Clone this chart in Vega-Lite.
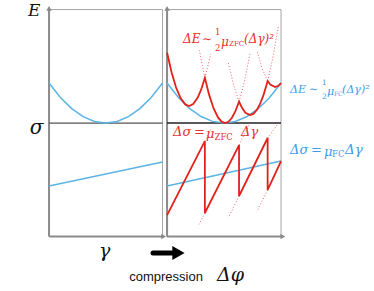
{
  "$schema": "https://vega.github.io/schema/vega-lite/v6.json",
  "width": 374,
  "height": 291,
  "autosize": {"type": "none"},
  "padding": 0,
  "config": {"view": {"stroke": null}},
  "datasets": {
    "F": [
      {"x": 0, "x2": 1, "y": -1, "y2": 1},
      {"x": 1.04, "x2": 2.044, "y": -1, "y2": 1}
    ],
    "R": [
      {"x": 0, "x2": 0, "y": -1, "y2": 1.0, "c": "#8c8c8c", "w": 2},
      {"x": 1.04, "x2": 1.04, "y": -1, "y2": 1.0, "c": "#8c8c8c", "w": 2},
      {"x": 0, "x2": 1.0, "y": -1, "y2": -1, "c": "#8c8c8c", "w": 2},
      {"x": 1.04, "x2": 2.05, "y": -1, "y2": -1, "c": "#8c8c8c", "w": 2},
      {"x": 0, "x2": 1, "y": 0, "y2": 0, "c": "#555555", "w": 1.2},
      {"x": 1.04, "x2": 2.044, "y": 0, "y2": 0, "c": "#222222", "w": 1.5}
    ],
    "A": [
      {"x": 0, "y": 1.01, "sh": "triangle-up"},
      {"x": 1.04, "y": 1.01, "sh": "triangle-up"},
      {"x": 1.01, "y": -1, "sh": "triangle-right"},
      {"x": 2.06, "y": -1, "sh": "triangle-right"}
    ],
    "L": [
      {"k": "b", "s": "bE1", "i": 0, "x": 0, "y": 0.352},
      {"k": "b", "s": "bE1", "i": 1, "x": 0.1, "y": 0.225},
      {"k": "b", "s": "bE1", "i": 2, "x": 0.2, "y": 0.127},
      {"k": "b", "s": "bE1", "i": 3, "x": 0.3, "y": 0.056},
      {"k": "b", "s": "bE1", "i": 4, "x": 0.4, "y": 0.014},
      {"k": "b", "s": "bE1", "i": 5, "x": 0.5, "y": 0},
      {"k": "b", "s": "bE1", "i": 6, "x": 0.6, "y": 0.014},
      {"k": "b", "s": "bE1", "i": 7, "x": 0.7, "y": 0.056},
      {"k": "b", "s": "bE1", "i": 8, "x": 0.8, "y": 0.127},
      {"k": "b", "s": "bE1", "i": 9, "x": 0.9, "y": 0.225},
      {"k": "b", "s": "bE1", "i": 10, "x": 1.0, "y": 0.352},
      {"k": "b", "s": "bE2", "i": 0, "x": 1.04, "y": 0.352},
      {"k": "b", "s": "bE2", "i": 1, "x": 1.14, "y": 0.226},
      {"k": "b", "s": "bE2", "i": 2, "x": 1.24, "y": 0.127},
      {"k": "b", "s": "bE2", "i": 3, "x": 1.34, "y": 0.057},
      {"k": "b", "s": "bE2", "i": 4, "x": 1.44, "y": 0.0145},
      {"k": "b", "s": "bE2", "i": 5, "x": 1.542, "y": 0},
      {"k": "b", "s": "bE2", "i": 6, "x": 1.64, "y": 0.0134},
      {"k": "b", "s": "bE2", "i": 7, "x": 1.74, "y": 0.055},
      {"k": "b", "s": "bE2", "i": 8, "x": 1.84, "y": 0.124},
      {"k": "b", "s": "bE2", "i": 9, "x": 1.94, "y": 0.221},
      {"k": "b", "s": "bE2", "i": 10, "x": 2.044, "y": 0.352},
      {"k": "b", "s": "bS1", "i": 0, "x": 0, "y": -0.555},
      {"k": "b", "s": "bS1", "i": 1, "x": 1.0, "y": -0.344},
      {"k": "b", "s": "bS2", "i": 0, "x": 1.04, "y": -0.555},
      {"k": "b", "s": "bS2", "i": 1, "x": 2.044, "y": -0.335},
      {"k": "r", "s": "rE", "i": 0, "x": 1.04, "y": 0.619},
      {"k": "r", "s": "rE", "i": 1, "x": 1.08, "y": 0.445},
      {"k": "r", "s": "rE", "i": 2, "x": 1.12, "y": 0.311},
      {"k": "r", "s": "rE", "i": 3, "x": 1.16, "y": 0.217},
      {"k": "r", "s": "rE", "i": 4, "x": 1.2, "y": 0.164},
      {"k": "r", "s": "rE", "i": 5, "x": 1.233, "y": 0.15},
      {"k": "r", "s": "rE", "i": 6, "x": 1.27, "y": 0.167},
      {"k": "r", "s": "rE", "i": 7, "x": 1.31, "y": 0.225},
      {"k": "r", "s": "rE", "i": 8, "x": 1.34, "y": 0.294},
      {"k": "r", "s": "rE", "i": 9, "x": 1.373, "y": 0.399},
      {"k": "r", "s": "rE", "i": 10, "x": 1.41, "y": 0.25},
      {"k": "r", "s": "rE", "i": 11, "x": 1.45, "y": 0.1285},
      {"k": "r", "s": "rE", "i": 12, "x": 1.49, "y": 0.0469},
      {"k": "r", "s": "rE", "i": 13, "x": 1.52, "y": 0.0121},
      {"k": "r", "s": "rE", "i": 14, "x": 1.551, "y": 0},
      {"k": "r", "s": "rE", "i": 15, "x": 1.58, "y": 0.0106},
      {"k": "r", "s": "rE", "i": 16, "x": 1.61, "y": 0.0439},
      {"k": "r", "s": "rE", "i": 17, "x": 1.64, "y": 0.0998},
      {"k": "r", "s": "rE", "i": 18, "x": 1.674, "y": 0.189},
      {"k": "r", "s": "rE", "i": 19, "x": 1.7, "y": 0.1335},
      {"k": "r", "s": "rE", "i": 20, "x": 1.73, "y": 0.091},
      {"k": "r", "s": "rE", "i": 21, "x": 1.771, "y": 0.07},
      {"k": "r", "s": "rE", "i": 22, "x": 1.8, "y": 0.0806},
      {"k": "r", "s": "rE", "i": 23, "x": 1.83, "y": 0.1139},
      {"k": "r", "s": "rE", "i": 24, "x": 1.86, "y": 0.17},
      {"k": "r", "s": "rE", "i": 25, "x": 1.89, "y": 0.248},
      {"k": "r", "s": "rE", "i": 26, "x": 1.926, "y": 0.371},
      {"k": "r", "s": "rE", "i": 27, "x": 1.95, "y": 0.338},
      {"k": "r", "s": "rE", "i": 28, "x": 1.991, "y": 0.317},
      {"k": "r", "s": "rE", "i": 29, "x": 2.02, "y": 0.328},
      {"k": "r", "s": "rE", "i": 30, "x": 2.044, "y": 0.352},
      {"k": "r", "s": "rS", "i": 0, "x": 1.04, "y": -0.811},
      {"k": "r", "s": "rS", "i": 1, "x": 1.373, "y": -0.16},
      {"k": "r", "s": "rS", "i": 2, "x": 1.373, "y": -0.793},
      {"k": "r", "s": "rS", "i": 3, "x": 1.674, "y": -0.194},
      {"k": "r", "s": "rS", "i": 4, "x": 1.674, "y": -0.643},
      {"k": "r", "s": "rS", "i": 5, "x": 1.926, "y": -0.132},
      {"k": "r", "s": "rS", "i": 6, "x": 1.926, "y": -0.59},
      {"k": "r", "s": "rS", "i": 7, "x": 2.044, "y": -0.335},
      {"k": "d", "s": "d1", "i": 0, "x": 1.373, "y": 0.399},
      {"k": "d", "s": "d1", "i": 1, "x": 1.4, "y": 0.501},
      {"k": "d", "s": "d1", "i": 2, "x": 1.424, "y": 0.609},
      {"k": "d", "s": "d2", "i": 0, "x": 1.373, "y": 0.399},
      {"k": "d", "s": "d2", "i": 1, "x": 1.35, "y": 0.509},
      {"k": "d", "s": "d2", "i": 2, "x": 1.325, "y": 0.639},
      {"k": "d", "s": "d3", "i": 0, "x": 1.674, "y": 0.189},
      {"k": "d", "s": "d3", "i": 1, "x": 1.72, "y": 0.36},
      {"k": "d", "s": "d3", "i": 2, "x": 1.771, "y": 0.61},
      {"k": "d", "s": "d4", "i": 0, "x": 1.674, "y": 0.189},
      {"k": "d", "s": "d4", "i": 1, "x": 1.63, "y": 0.32},
      {"k": "d", "s": "d4", "i": 2, "x": 1.58, "y": 0.53},
      {"k": "d", "s": "d5", "i": 0, "x": 1.926, "y": 0.371},
      {"k": "d", "s": "d5", "i": 1, "x": 1.88, "y": 0.472},
      {"k": "d", "s": "d5", "i": 2, "x": 1.83, "y": 0.644},
      {"k": "d", "s": "d6", "i": 0, "x": 1.926, "y": 0.371},
      {"k": "d", "s": "d6", "i": 1, "x": 1.97, "y": 0.569},
      {"k": "d", "s": "d6", "i": 2, "x": 2.02, "y": 0.851},
      {"k": "d", "s": "e1", "i": 0, "x": 1.373, "y": -0.793},
      {"k": "d", "s": "e1", "i": 1, "x": 1.322, "y": -0.893},
      {"k": "d", "s": "e2", "i": 0, "x": 1.674, "y": -0.643},
      {"k": "d", "s": "e2", "i": 1, "x": 1.58, "y": -0.835},
      {"k": "d", "s": "e3", "i": 0, "x": 1.926, "y": -0.59},
      {"k": "d", "s": "e3", "i": 1, "x": 1.83, "y": -0.78},
      {"k": "d", "s": "e4", "i": 0, "x": 1.373, "y": -0.16},
      {"k": "d", "s": "e4", "i": 1, "x": 1.43, "y": -0.045},
      {"k": "d", "s": "e5", "i": 0, "x": 1.674, "y": -0.194},
      {"k": "d", "s": "e5", "i": 1, "x": 1.76, "y": -0.02},
      {"k": "d", "s": "e6", "i": 0, "x": 1.926, "y": -0.132},
      {"k": "d", "s": "e6", "i": 1, "x": 2.02, "y": 0.0}
    ],
    "TI": [
      {"t": "E", "x": -0.185, "y": 0.985, "s": 17, "c": "#111111"},
      {"t": "σ", "x": -0.17, "y": -0.044, "s": 20, "c": "#111111"},
      {"t": "γ", "x": 0.44, "y": -1.128, "s": 19, "c": "#111111"},
      {"t": "Δφ", "x": 1.48, "y": -1.339, "s": 19, "c": "#111111"},
      {"t": "ΔE", "x": 2.123, "y": 0.291, "s": 11, "c": "#3d9be9"},
      {"t": "μ", "x": 2.449, "y": 0.273, "s": 11, "c": "#3d9be9"},
      {"t": "(Δγ)²", "x": 2.582, "y": 0.291, "s": 11, "c": "#3d9be9"},
      {"t": "Δσ", "x": 2.123, "y": -0.238, "s": 13, "c": "#3d9be9"},
      {"t": "μ", "x": 2.423, "y": -0.256, "s": 13, "c": "#3d9be9"},
      {"t": "Δγ", "x": 2.608, "y": -0.238, "s": 13.5, "c": "#3d9be9"},
      {"t": "ΔE", "x": 1.181, "y": 0.74, "s": 12, "c": "#e8302c"},
      {"t": "μ", "x": 1.515, "y": 0.714, "s": 12, "c": "#e8302c"},
      {"t": "(Δγ)²", "x": 1.718, "y": 0.74, "s": 12, "c": "#e8302c"},
      {"t": "Δσ", "x": 1.093, "y": -0.079, "s": 13, "c": "#e8302c"},
      {"t": "μ", "x": 1.383, "y": -0.097, "s": 13, "c": "#e8302c"},
      {"t": "Δγ", "x": 1.692, "y": -0.079, "s": 13, "c": "#e8302c"}
    ],
    "TN": [
      {"t": "∼", "x": 2.29, "y": 0.291, "s": 11, "c": "#3d9be9"},
      {"t": "1", "x": 2.405, "y": 0.355, "s": 7.5, "c": "#3d9be9"},
      {"t": "2", "x": 2.405, "y": 0.228, "s": 7.5, "c": "#3d9be9"},
      {"t": "FC", "x": 2.51, "y": 0.256, "s": 6, "c": "#3d9be9"},
      {"t": "=", "x": 2.308, "y": -0.238, "s": 13, "c": "#3d9be9"},
      {"t": "FC", "x": 2.493, "y": -0.273, "s": 8.5, "c": "#3d9be9"},
      {"t": "∼", "x": 1.348, "y": 0.74, "s": 12, "c": "#e8302c"},
      {"t": "1", "x": 1.463, "y": 0.805, "s": 8.5, "c": "#e8302c"},
      {"t": "2", "x": 1.463, "y": 0.66, "s": 8.5, "c": "#e8302c"},
      {"t": "ZFC", "x": 1.586, "y": 0.696, "s": 7, "c": "#e8302c"},
      {"t": "=", "x": 1.278, "y": -0.079, "s": 13, "c": "#e8302c"},
      {"t": "ZFC", "x": 1.458, "y": -0.123, "s": 8.5, "c": "#e8302c"}
    ],
    "TS": [
      {"t": "compression", "x": 1.031, "y": -1.357}
    ],
    "K": [
      {"x": 0.916, "x2": 1.1, "y": -1.145}
    ],
    "KH": [
      {"x": 1.14, "y": -1.145}
    ]
  },
  "layer": [
    {
      "data": {"name": "F"},
      "mark": {"type": "rect", "filled": false, "stroke": "#a6a6a6", "strokeWidth": 1},
      "encoding": {
        "x": {"field": "x", "type": "quantitative", "scale": {"domain": [-0.432, 2.863], "nice": false, "zero": false}, "axis": null},
        "x2": {"field": "x2"},
        "y": {"field": "y", "type": "quantitative", "scale": {"domain": [-1.48, 1.084], "nice": false, "zero": false}, "axis": null},
        "y2": {"field": "y2"}
      }
    },
    {
      "data": {"name": "R"},
      "mark": {"type": "rule"},
      "encoding": {
        "x": {"field": "x", "type": "quantitative"},
        "x2": {"field": "x2"},
        "y": {"field": "y", "type": "quantitative"},
        "y2": {"field": "y2"},
        "color": {"field": "c", "type": "nominal", "scale": null},
        "strokeWidth": {"field": "w", "type": "quantitative", "scale": null}
      }
    },
    {
      "data": {"name": "A"},
      "mark": {"type": "point", "filled": true, "color": "#8a8a8a", "size": 30, "opacity": 1},
      "encoding": {
        "x": {"field": "x", "type": "quantitative"},
        "y": {"field": "y", "type": "quantitative"},
        "shape": {"field": "sh", "type": "nominal", "scale": null}
      }
    },
    {
      "data": {"name": "L"},
      "transform": [{"filter": "datum.k === 'b'"}],
      "mark": {"type": "line", "color": "#5ab4e6", "strokeWidth": 1.5},
      "encoding": {
        "x": {"field": "x", "type": "quantitative"},
        "y": {"field": "y", "type": "quantitative"},
        "detail": {"field": "s", "type": "nominal"},
        "order": {"field": "i", "type": "quantitative"}
      }
    },
    {
      "data": {"name": "L"},
      "transform": [{"filter": "datum.k === 'd'"}],
      "mark": {"type": "line", "color": "#ec4a48", "strokeWidth": 1, "strokeDash": [1, 2], "opacity": 0.85},
      "encoding": {
        "x": {"field": "x", "type": "quantitative"},
        "y": {"field": "y", "type": "quantitative"},
        "detail": {"field": "s", "type": "nominal"},
        "order": {"field": "i", "type": "quantitative"}
      }
    },
    {
      "data": {"name": "L"},
      "transform": [{"filter": "datum.k === 'r'"}],
      "mark": {"type": "line", "color": "#e3211c", "strokeWidth": 1.8},
      "encoding": {
        "x": {"field": "x", "type": "quantitative"},
        "y": {"field": "y", "type": "quantitative"},
        "detail": {"field": "s", "type": "nominal"},
        "order": {"field": "i", "type": "quantitative"}
      }
    },
    {
      "data": {"name": "K"},
      "mark": {"type": "rule", "color": "#000000", "strokeWidth": 5, "strokeCap": "round"},
      "encoding": {
        "x": {"field": "x", "type": "quantitative"},
        "x2": {"field": "x2"},
        "y": {"field": "y", "type": "quantitative"}
      }
    },
    {
      "data": {"name": "KH"},
      "mark": {"type": "point", "filled": true, "color": "#000000", "shape": "triangle-right", "size": 200, "opacity": 1},
      "encoding": {
        "x": {"field": "x", "type": "quantitative"},
        "y": {"field": "y", "type": "quantitative"}
      }
    },
    {
      "data": {"name": "TI"},
      "mark": {"type": "text", "font": "DejaVu Serif", "fontStyle": "italic", "align": "left", "baseline": "middle"},
      "encoding": {
        "x": {"field": "x", "type": "quantitative"},
        "y": {"field": "y", "type": "quantitative"},
        "text": {"field": "t"},
        "size": {"field": "s", "type": "quantitative", "scale": null},
        "color": {"field": "c", "type": "nominal", "scale": null}
      }
    },
    {
      "data": {"name": "TN"},
      "mark": {"type": "text", "font": "DejaVu Serif", "align": "left", "baseline": "middle"},
      "encoding": {
        "x": {"field": "x", "type": "quantitative"},
        "y": {"field": "y", "type": "quantitative"},
        "text": {"field": "t"},
        "size": {"field": "s", "type": "quantitative", "scale": null},
        "color": {"field": "c", "type": "nominal", "scale": null}
      }
    },
    {
      "data": {"name": "TS"},
      "mark": {"type": "text", "font": "Liberation Sans", "fontSize": 13, "align": "center", "baseline": "middle", "color": "#111111"},
      "encoding": {
        "x": {"field": "x", "type": "quantitative"},
        "y": {"field": "y", "type": "quantitative"},
        "text": {"field": "t"}
      }
    }
  ]
}
